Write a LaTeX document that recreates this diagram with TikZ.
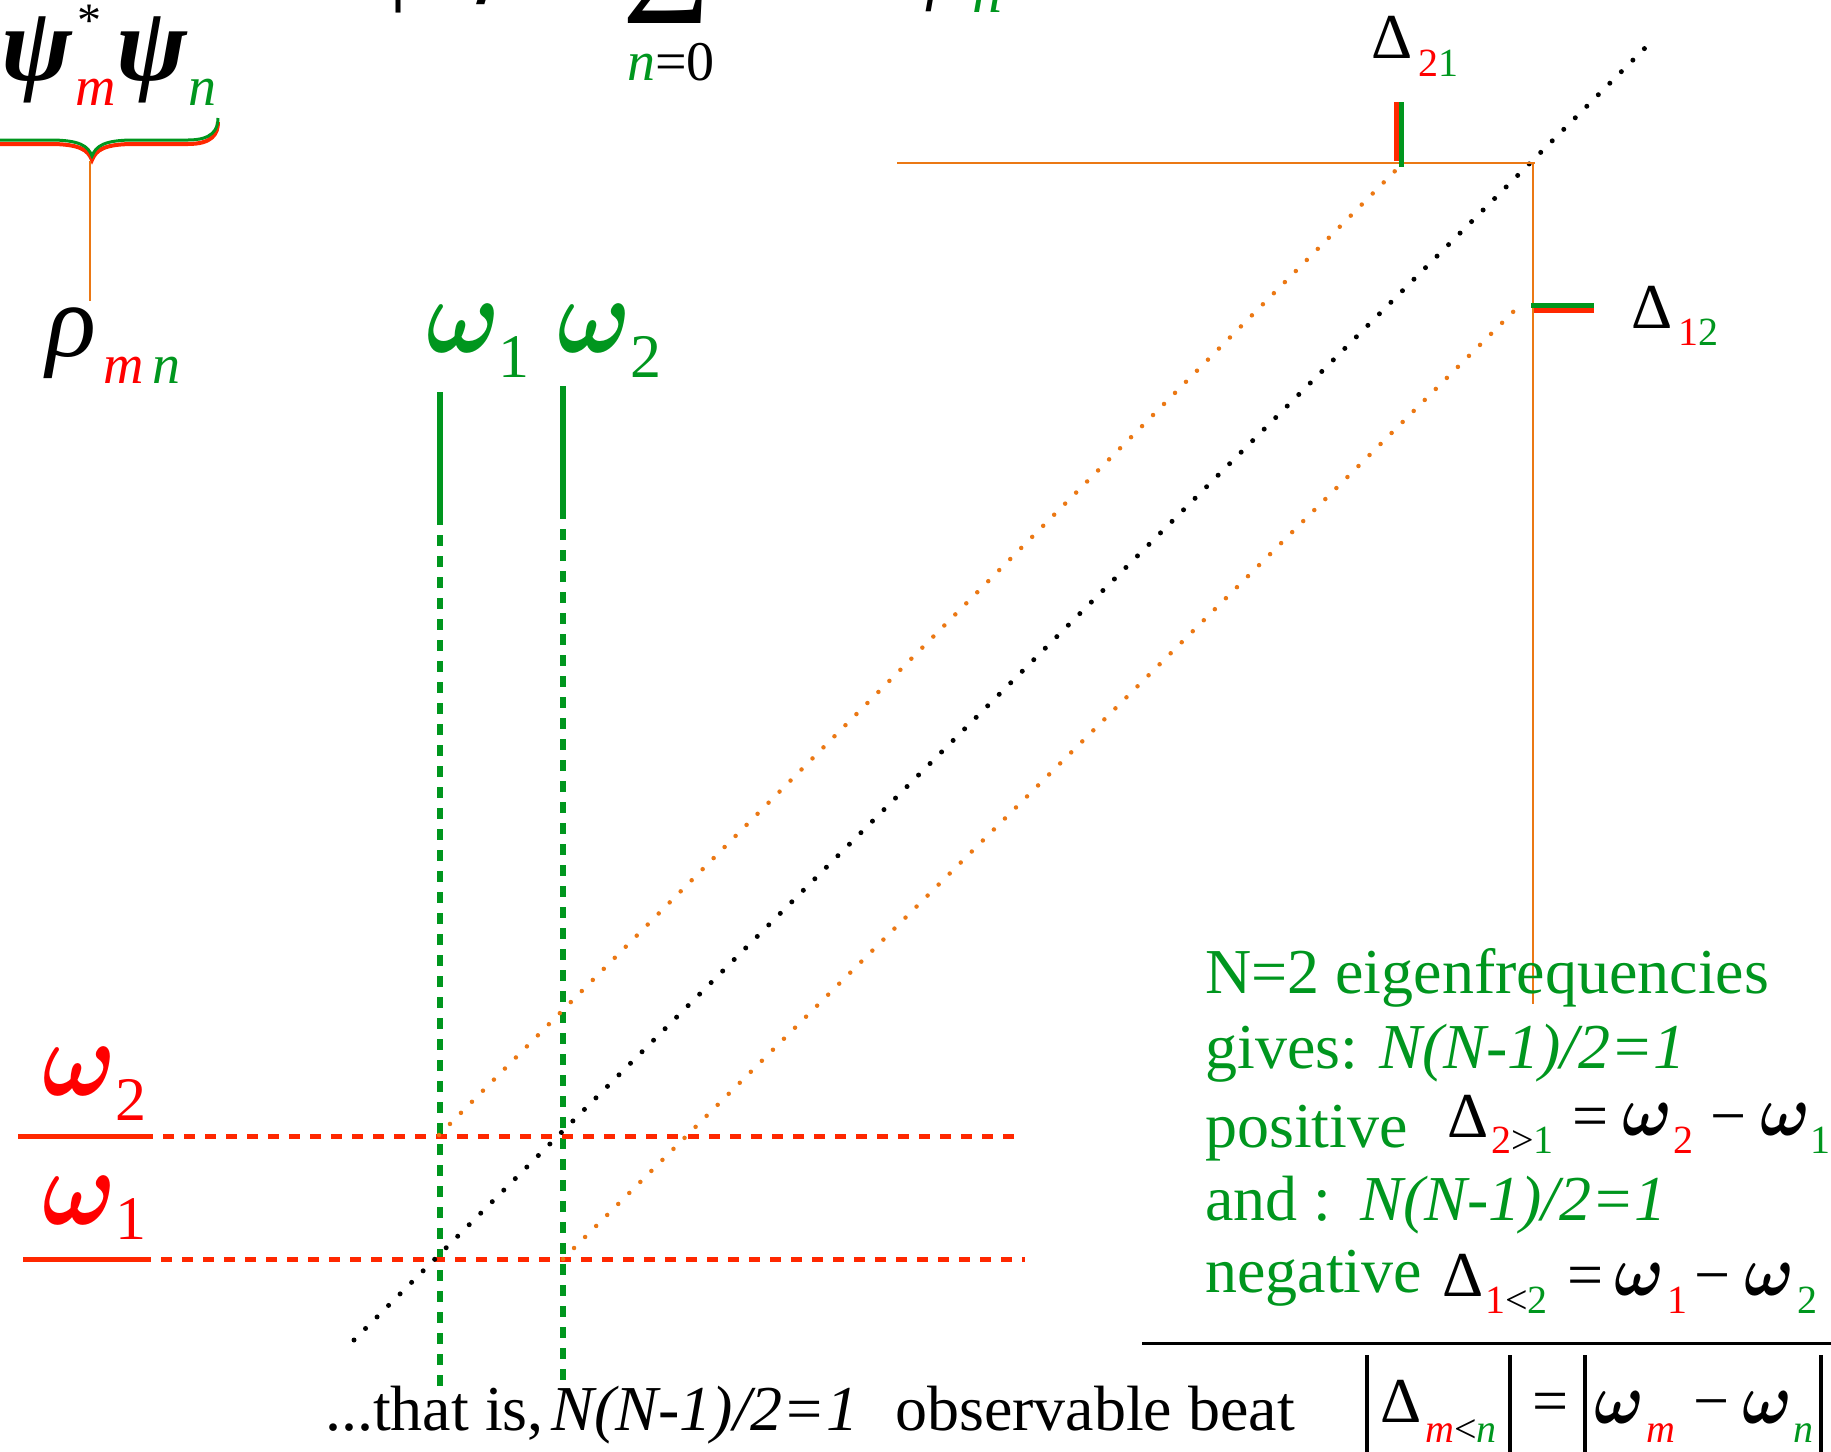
\documentclass[tikz,border=0pt]{standalone}
\usepackage{graphicx}
\usepackage{bm}
\usepackage{fontspec}
\setmainfont{Liberation Serif}
\newfontfamily\djv{DejaVu Sans}
\definecolor{gr}{RGB}{0,150,30}
\definecolor{rd}{RGB}{255,0,0}
\definecolor{rl}{RGB}{255,40,0}
\definecolor{og}{RGB}{235,120,20}
\newcommand\fsz[1]{\fontsize{#1}{#1}\selectfont}
\newcommand\gk[1]{{\bfseries\itshape #1}}
\newcommand\bom[2]{\scalebox{#1}[#2]{\fontsize{10}{12}\selectfont$\bm{\omega}$}}
\newcommand\bigom{\bom{9.8}{10.8}}
\newcommand\smom{\bom{6.6}{7.2}}
\tikzset{
  lbl/.style={inner sep=0pt, anchor=base west},
  gsolid/.style={draw=gr, line width=5.5pt},
  gdash/.style={draw=gr, line width=5.5pt, dash pattern=on 10.5pt off 10.5pt},
  rsolid/.style={draw=rl, line width=5pt},
  rdash/.style={draw=rl, line width=5pt, dash pattern=on 11pt off 10pt},
  blackdots/.style={draw=black, line width=5pt, line cap=round, dash pattern=on 0pt off 16.3pt},
  orangedots/.style={draw=og, line width=4.5pt, line cap=round, dash pattern=on 0pt off 15.6pt},
  oline/.style={draw=og, line width=2.5pt},
  bigtxt/.style={lbl, font=\fsz{64}},
  subtxt/.style={lbl, font=\fsz{40}},
}
\begin{document}
\begin{tikzpicture}[x=1pt,y=-1pt]
\useasboundingbox (0,0) rectangle (1831,1451);

% ---- cut-off formula at the top
\node[lbl] (ket) at (388,-9) {\fsz{100}|\textit{Ψ}\hspace{-18pt}{\djv ⟩}};
\node[lbl] (sig) at (622,23) {\fsz{150}Σ};
\node[lbl] (n0) at (627,80) {\fsz{56}\textit{\textcolor{gr}{n}}=0};
\node[lbl] (psin) at (905,-10) {\fsz{100}\textit{ψ}};
\node[lbl] (psins) at (972,12) {\fsz{60}\textit{\textcolor{gr}{n}}};

% ---- psi*_m psi_n
\node[lbl] (psi1) at (1,80) {\fsz{106}\gk{ψ}};
\node[lbl] (star) at (77,36) {\fsz{48}*};
\node[lbl] (msub) at (75,105) {\fsz{56}\textit{\textcolor{rd}{m}}};
\node[lbl] (psi2) at (116,80) {\fsz{106}\gk{ψ}};
\node[lbl] (nsub) at (188,105) {\fsz{56}\textit{\textcolor{gr}{n}}};

% brace
\draw[rl, line width=4pt] (-5,144) -- (50,144) .. controls (80,144) and (88,150) .. (92,160)
   .. controls (96,150) and (104,144) .. (134,144) -- (188,144) .. controls (212,144) and (218,134) .. (218,122);
\draw[gr, line width=3pt] (-5,140) -- (50,140) .. controls (80,140) and (88,146) .. (92,156)
   .. controls (96,146) and (104,140) .. (134,140) -- (188,140) .. controls (212,140) and (218,130) .. (218,118);
\coordinate (btip) at (90,161);
\coordinate (rhotop) at (90,301);
\draw[oline] (btip) -- (rhotop);

% rho_mn
\node[lbl] (rho) at (46,356) {\fsz{104}\textit{ρ}};
\node[lbl] (mn) at (103,383) {\fsz{56}\textit{\textcolor{rd}{m}\,\textcolor{gr}{n}}};

% green omegas
\node[lbl, text=gr] (w1) at (426,352) {\bigom};
\node[lbl] (w1s) at (498,377) {\fsz{62}\color{gr}1};
\node[lbl, text=gr] (w2) at (557,352) {\bigom};
\node[lbl] (w2s) at (630,377) {\fsz{62}\color{gr}2};

% red omegas
\node[lbl, text=rd] (rw2) at (42,1095) {\bigom};
\node[lbl] (rw2s) at (115,1120) {\fsz{62}\color{rd}2};
\node[lbl, text=rd] (rw1) at (42,1224) {\bigom};
\node[lbl] (rw1s) at (115,1239) {\fsz{62}\color{rd}1};

% Delta labels
\node[bigtxt] (d21) at (1371,58) {Δ};
\node[subtxt] (d21s) at (1418,76) {\textcolor{rd}{2}\textcolor{gr}{1}};
\node[bigtxt] (d12) at (1631,328) {Δ};
\node[subtxt] (d12s) at (1678,345) {\textcolor{rd}{1}\textcolor{gr}{2}};

% ---- coordinates of the grid
\coordinate (g1top) at (440,392); \coordinate (g1mid) at (440,514); \coordinate (g1bot) at (440,1395);
\coordinate (g2top) at (563,386); \coordinate (g2mid) at (563,508); \coordinate (g2bot) at (563,1390);
\coordinate (r2l) at (18,1136); \coordinate (r2m) at (142,1136); \coordinate (r2r) at (1022,1136);
\coordinate (r1l) at (23,1259); \coordinate (r1m) at (140,1259); \coordinate (r1r) at (1025,1259);
\coordinate (dA) at (354,1340); \coordinate (dB) at (1646,47);
\coordinate (oA1) at (439,1135); \coordinate (oB1) at (1399,167);
\coordinate (oA2) at (563,1259); \coordinate (oB2) at (1524,301);
\coordinate (hL) at (897,163); \coordinate (hR) at (1535,163);
\coordinate (corner) at (1533,163); \coordinate (vB) at (1533,1004);

\draw[gsolid] (g1top) -- (g1mid);
\draw[gdash] (g1mid) -- (g1bot);
\draw[gsolid] (g2top) -- (g2mid);
\draw[gdash] (g2mid) -- (g2bot);
\draw[rsolid] (r2l) -- (r2m);
\draw[rdash] (r2m) -- (r2r);
\draw[rsolid] (r1l) -- (r1m);
\draw[rdash] (r1m) -- (r1r);

\draw[blackdots] (dA) -- (dB);
\draw[orangedots] (oA1) -- (oB1);
\draw[orangedots] (oA2) -- (oB2);

\draw[oline] (hL) -- (hR);
\draw[oline] (corner) -- (vB);

% ticks
\coordinate (t21r1) at (1396,102); \coordinate (t21r2) at (1396,161);
\coordinate (t21g1) at (1401,102); \coordinate (t21g2) at (1401,167);
\draw[rl, line width=5pt] (t21r1) -- (t21r2);
\draw[gr, line width=5pt] (t21g1) -- (t21g2);
\coordinate (t12g1) at (1531,305); \coordinate (t12g2) at (1594,305);
\coordinate (t12r1) at (1534,310); \coordinate (t12r2) at (1594,310);
\draw[rl, line width=5pt] (t12r1) -- (t12r2);
\draw[gr, line width=5pt] (t12g1) -- (t12g2);

% ---- text block
\node[bigtxt, text=gr] (l1) at (1205,993) {N=2 eigenfrequencies};
\node[bigtxt, text=gr] (l2) at (1205,1068) {gives: \textit{N(N-1)/2=1}};
\node[bigtxt, text=gr] (l3) at (1205,1147) {positive};
\node[bigtxt] (p1) at (1447,1137) {Δ};
\node[subtxt] (p1s) at (1491,1153) {\textcolor{rd}{2}>\textcolor{gr}{1}};
\node[bigtxt] (p2) at (1572,1137) {=};
\node[lbl] (p3) at (1622,1135) {\smom};
\node[subtxt] (p3s) at (1673,1153) {\textcolor{rd}{2}};
\node[bigtxt] (p4) at (1710,1137) {−};
\node[lbl] (p5) at (1760,1135) {\smom};
\node[subtxt] (p5s) at (1810,1153) {\textcolor{gr}{1}};
\node[bigtxt, text=gr] (l4) at (1205,1220) {and :\hspace{29pt}\textit{N(N-1)/2=1}};
\node[bigtxt, text=gr] (l5) at (1205,1292) {negative};
\node[bigtxt] (q1) at (1442,1296) {Δ};
\node[subtxt] (q1s) at (1485,1313) {\textcolor{rd}{1}<\textcolor{gr}{2}};
\node[bigtxt] (q2) at (1567,1296) {=};
\node[lbl] (q3) at (1614,1295) {\smom};
\node[subtxt] (q3s) at (1667,1313) {\textcolor{rd}{1}};
\node[bigtxt] (q4) at (1694,1296) {−};
\node[lbl] (q5) at (1744,1295) {\smom};
\node[subtxt] (q5s) at (1797,1313) {\textcolor{gr}{2}};

\coordinate (ruleL) at (1142,1343); \coordinate (ruleR) at (1831,1343);
\draw[black, line width=3pt] (ruleL) -- (ruleR);

% ---- bottom line
\node[bigtxt] (b1) at (325,1430) {...that is,\hspace{8pt}\textit{N(N-1)/2=1}\hspace{37pt}observable beat};
\node[bigtxt] (bD) at (1380,1422) {Δ};
\node[subtxt] (bDs) at (1425,1442) {\textit{\textcolor{rd}{m}}<\textit{\textcolor{gr}{n}}};
\node[bigtxt] (beq) at (1532,1422) {=};
\node[lbl] (bw1) at (1594,1423) {\smom};
\node[subtxt] (bw1s) at (1646,1442) {\textit{\textcolor{rd}{m}}};
\node[bigtxt] (bmin) at (1693,1422) {−};
\node[lbl] (bw2) at (1742,1423) {\smom};
\node[subtxt] (bw2s) at (1793,1442) {\textit{\textcolor{gr}{n}}};
\foreach \bx/\nm in {1367/a,1510/b,1585/c,1821/d}{
  \coordinate (bar\nm t) at (\bx,1355);
  \coordinate (bar\nm b) at (\bx,1455);
  \draw[black, line width=4pt] (bar\nm t) -- (bar\nm b);
}
\end{tikzpicture}
\end{document}
